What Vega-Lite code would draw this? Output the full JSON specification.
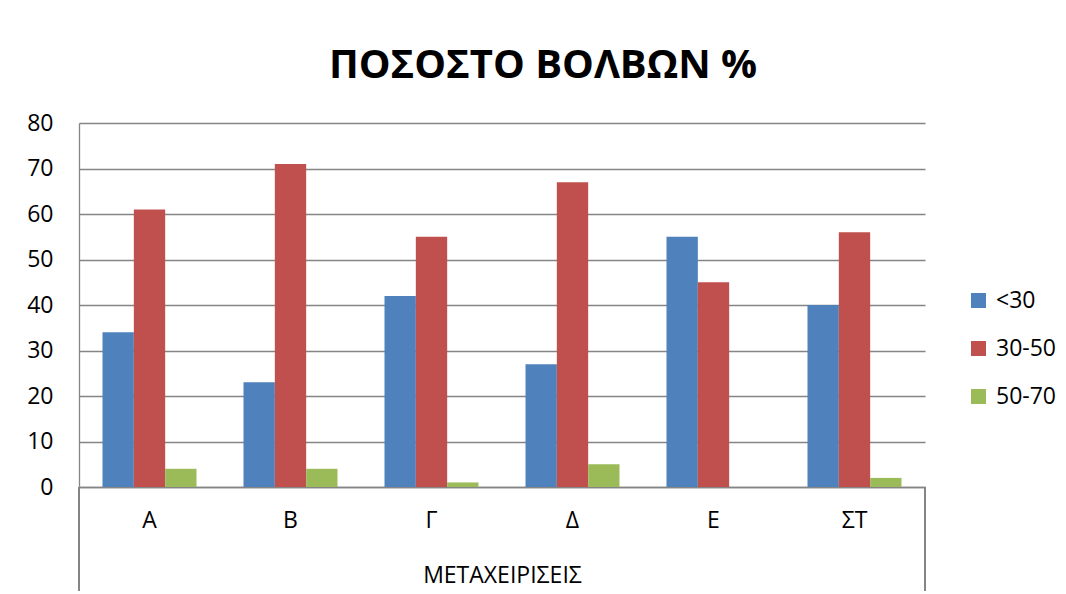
{
  "$schema": "https://vega.github.io/schema/vega-lite/v6.json",
  "width": 846,
  "height": 364,
  "autosize": {"type": "none"},
  "padding": {"left": 79, "top": 123, "right": 141, "bottom": 107},
  "background": "white",
  "title": {
    "text": "ΠΟΣΟΣΤΟ ΒΟΛΒΩΝ %",
    "font": "Open Sans",
    "fontSize": 40,
    "fontWeight": "bold",
    "color": "#000000",
    "anchor": "middle",
    "frame": "group",
    "dx": 41,
    "baseline": "alphabetic",
    "offset": -6
  },
  "data": {
    "values": [
      {"cat": "Α", "group": "<30", "value": 34},
      {"cat": "Α", "group": "30-50", "value": 61},
      {"cat": "Α", "group": "50-70", "value": 4},
      {"cat": "Β", "group": "<30", "value": 23},
      {"cat": "Β", "group": "30-50", "value": 71},
      {"cat": "Β", "group": "50-70", "value": 4},
      {"cat": "Γ", "group": "<30", "value": 42},
      {"cat": "Γ", "group": "30-50", "value": 55},
      {"cat": "Γ", "group": "50-70", "value": 1},
      {"cat": "Δ", "group": "<30", "value": 27},
      {"cat": "Δ", "group": "30-50", "value": 67},
      {"cat": "Δ", "group": "50-70", "value": 5},
      {"cat": "Ε", "group": "<30", "value": 55},
      {"cat": "Ε", "group": "30-50", "value": 45},
      {"cat": "Ε", "group": "50-70", "value": 0},
      {"cat": "ΣΤ", "group": "<30", "value": 40},
      {"cat": "ΣΤ", "group": "30-50", "value": 56},
      {"cat": "ΣΤ", "group": "50-70", "value": 2}
    ]
  },
  "layer": [
    {
      "mark": {"type": "bar"},
      "encoding": {
        "x": {
          "field": "cat",
          "type": "nominal",
          "sort": ["Α", "Β", "Γ", "Δ", "Ε", "ΣΤ"],
          "scale": {"paddingInner": 0.3333, "paddingOuter": 0.1667},
          "axis": {
            "title": "ΜΕΤΑΧΕΙΡΙΣΕΙΣ",
            "labelAngle": 0,
            "labelFont": "Open Sans",
            "labelFontSize": 23,
            "labelColor": "#000000",
            "labelPadding": 22,
            "ticks": false,
            "domain": true,
            "domainColor": "#858585",
            "domainWidth": 1.3,
            "titleFont": "Open Sans",
            "titleFontSize": 23,
            "titleFontWeight": "normal",
            "titleColor": "#000000",
            "titlePadding": 32
          }
        },
        "xOffset": {
          "field": "group",
          "type": "nominal",
          "sort": ["<30", "30-50", "50-70"]
        },
        "y": {
          "field": "value",
          "type": "quantitative",
          "scale": {"domain": [0, 80], "nice": false},
          "axis": {
            "title": null,
            "values": [0, 10, 20, 30, 40, 50, 60, 70, 80],
            "labelFont": "Open Sans",
            "labelFontSize": 23,
            "labelColor": "#000000",
            "labelPadding": 26,
            "ticks": false,
            "domain": true,
            "domainColor": "#858585",
            "domainWidth": 1.3,
            "grid": true,
            "gridColor": "#858585",
            "gridWidth": 1.3
          }
        },
        "color": {
          "field": "group",
          "type": "nominal",
          "sort": ["<30", "30-50", "50-70"],
          "scale": {"domain": ["<30", "30-50", "50-70"], "range": ["#4F81BD", "#C0504D", "#9BBB59"]},
          "legend": {
            "title": null,
            "orient": "none",
            "legendX": 888,
            "legendY": 166,
            "padding": 0,
            "symbolType": "square",
            "symbolSize": 225,
            "symbolStrokeWidth": 0,
            "symbolOpacity": 1,
            "labelFont": "Open Sans",
            "labelFontSize": 23,
            "labelColor": "#000000",
            "labelOffset": 6,
            "rowPadding": 24
          }
        }
      }
    },
    {
      "mark": {"type": "rule", "color": "#858585", "strokeWidth": 1.3, "clip": false},
      "encoding": {
        "x": {"datum": "Α", "type": "nominal", "bandPosition": -0.25},
        "y": {"datum": 0, "type": "quantitative"},
        "y2": {"datum": -22.7}
      }
    },
    {
      "mark": {"type": "rule", "color": "#858585", "strokeWidth": 1.3, "clip": false},
      "encoding": {
        "x": {"datum": "ΣΤ", "type": "nominal", "bandPosition": 1.25},
        "y": {"datum": 0, "type": "quantitative"},
        "y2": {"datum": -22.7}
      }
    }
  ],
  "config": {
    "view": {"stroke": null}
  }
}
